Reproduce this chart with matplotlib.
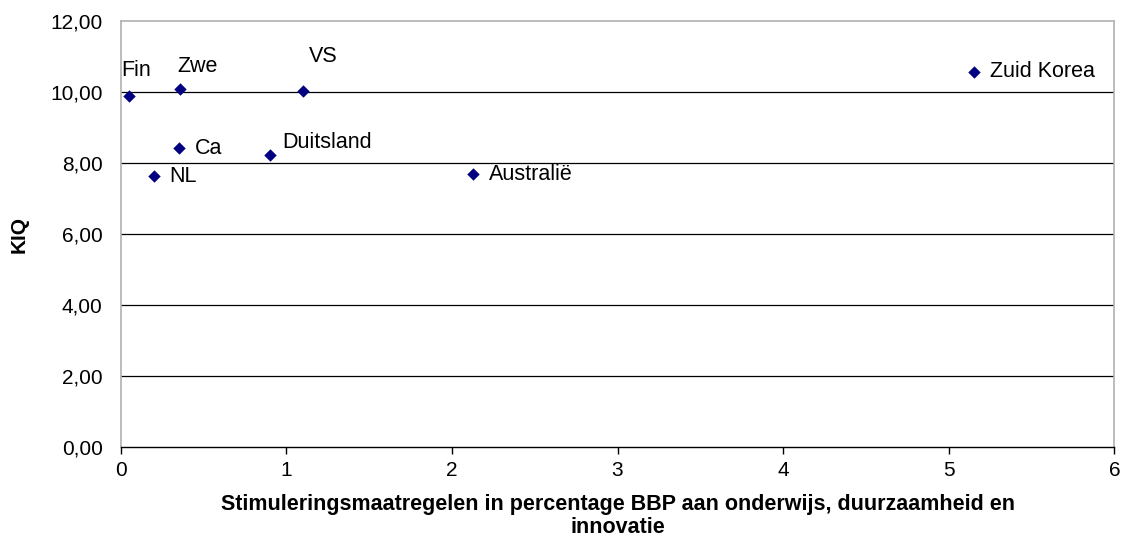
import matplotlib.pyplot as plt
from matplotlib.ticker import FuncFormatter

plt.rcParams['font.family'] = ['Liberation Sans', 'DejaVu Sans']

# data
countries = ['Fin', 'Zwe', 'VS', 'Ca', 'Duitsland', 'NL', 'Australië', 'Zuid Korea']
stimulus = [0.05, 0.36, 1.10, 0.35, 0.90, 0.20, 2.13, 5.15]
kiq = [9.87, 10.07, 10.03, 8.43, 8.23, 7.63, 7.68, 10.56]

# label offsets in pixels (dx, dy)
offsets = [(-8, 26), (-3, 23), (6, 34), (16, -1), (13, 12), (15, 0), (15, 0), (16, 0)]

fig = plt.figure(figsize=(11.3, 5.54), dpi=100)
ax = fig.add_axes([0.1068, 0.1926, 0.8794, 0.77])

ax.scatter(stimulus, kiq, marker='D', s=40, color='#000080', zorder=3, linewidths=0)

for name, x, y, off in zip(countries, stimulus, kiq, offsets):
    ax.annotate(name, (x, y), xytext=off, textcoords='offset pixels',
                ha='left', va='center', fontsize=15.5)

ax.set_xlim(0, 6)
ax.set_ylim(0, 12)
ax.set_xticks(range(0, 7))
ax.set_yticks(range(0, 13, 2))
ax.yaxis.set_major_formatter(FuncFormatter(lambda v, p: f'{v:.2f}'.replace('.', ',')))

for y in range(2, 12, 2):
    ax.axhline(y, color='black', lw=0.9, zorder=1)

for s in ['top', 'left', 'right']:
    ax.spines[s].set_color('#b0b0b0')
    ax.spines[s].set_linewidth(1.2)
ax.spines['bottom'].set_color('black')
ax.spines['bottom'].set_linewidth(1.0)

ax.tick_params(axis='x', direction='out', length=5, width=1, labelsize=15, pad=5)
ax.tick_params(axis='y', length=0, labelsize=15, pad=13)

ax.set_xlabel('Stimuleringsmaatregelen in percentage BBP aan onderwijs, duurzaamheid en\ninnovatie',
              fontsize=15.5, fontweight='bold', labelpad=10, linespacing=1.12)
ax.set_ylabel('KIQ', fontsize=15, fontweight='bold')
ax.yaxis.set_label_coords(-0.093, 0.5)

fig.savefig('out.png', dpi=100)
